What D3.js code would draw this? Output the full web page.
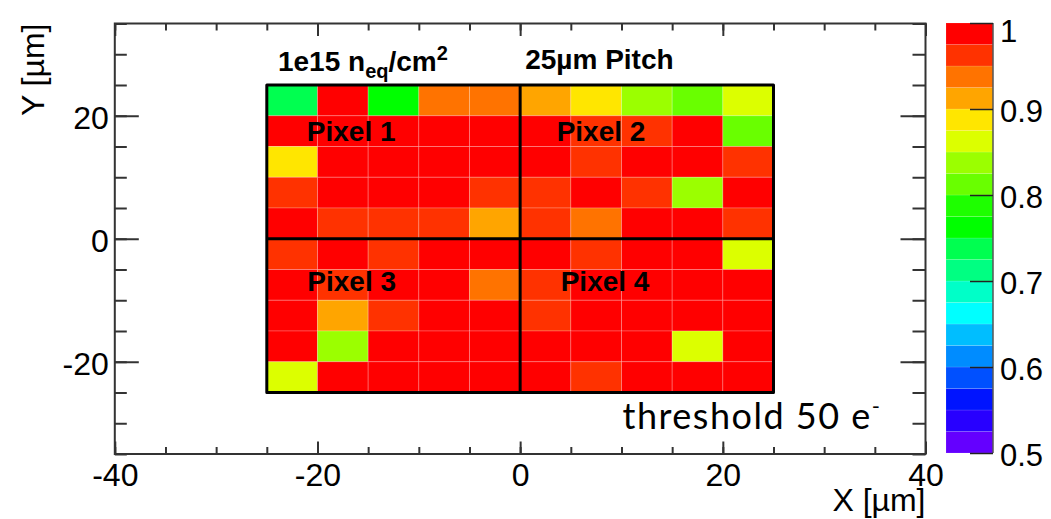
<!DOCTYPE html>
<html><head><meta charset="utf-8">
<script src="https://cdn.jsdelivr.net/npm/d3@7"></script>
<style>
html,body{margin:0;padding:0;background:#fff;}
svg{display:block;}
</style></head>
<body>
<svg id="chart" width="1051" height="519"></svg>
<script>
// ---- data ----
const xBinLow = [-25, -20, -15, -10, -5, 0, 5, 10, 15, 20];
const yBinLow = [20, 15, 10, 5, 0, -5, -10, -15, -20, -25];
const binWidth = 5;
const rowY20  = [0.74, 0.99, 0.76, 0.94, 0.94, 0.91, 0.89, 0.84, 0.81, 0.86];
const rowY15  = [0.99, 0.99, 0.99, 0.99, 0.99, 0.99, 0.96, 0.96, 0.99, 0.81];
const rowY10  = [0.89, 0.99, 0.99, 0.99, 0.99, 0.99, 0.96, 0.99, 0.99, 0.96];
const rowY5   = [0.96, 0.99, 0.99, 0.99, 0.96, 0.96, 0.99, 0.96, 0.84, 0.99];
const rowY0   = [0.99, 0.96, 0.96, 0.96, 0.91, 0.96, 0.94, 0.99, 0.99, 0.96];
const rowYm5  = [0.96, 0.99, 0.96, 0.99, 0.99, 0.99, 0.96, 0.99, 0.99, 0.86];
const rowYm10 = [0.99, 0.96, 0.99, 0.99, 0.94, 0.96, 0.99, 0.99, 0.99, 0.99];
const rowYm15 = [0.99, 0.91, 0.96, 0.99, 0.99, 0.96, 0.99, 0.99, 0.99, 0.99];
const rowYm20 = [0.99, 0.84, 0.99, 0.99, 0.99, 0.99, 0.99, 0.99, 0.86, 0.99];
const rowYm25 = [0.86, 0.99, 0.99, 0.99, 0.99, 0.99, 0.96, 0.99, 0.99, 0.99];
const rows = [rowY20, rowY15, rowY10, rowY5, rowY0, rowYm5, rowYm10, rowYm15, rowYm20, rowYm25];

const xMajorTicks = [-40, -20, 0, 20, 40];
const xTickLabels = ["-40", "-20", "0", "20", "40"];
const xMinorTicks = d3.range(-40, 41, 5);
const yMajorTicks = [-20, 0, 20];
const yTickLabels = ["-20", "0", "20"];
const yMinorTicks = d3.range(-35, 36, 5);
const zTicks = [0.5, 0.6, 0.7, 0.8, 0.9, 1];
const zTickLabels = ["0.5", "0.6", "0.7", "0.8", "0.9", "1"];
const palette = ["#6400ff","#2800ff","#0014ff","#0050ff","#008cff","#00beff","#00ffff","#00ffc8",
  "#00ff82","#00ff50","#00ff00","#1eff00","#69ff00","#9bff00","#dcff00","#ffe600","#ffa500",
  "#ff7300","#ff3200","#ff0000"];
const pixelDividers = {x: 0, y: 0};

// ---- layout ----
const svg = d3.select("#chart");
const L = 114.8, R = 925.5, T = 23.5, B = 454;
const x = d3.scaleLinear().domain([-40, 40]).range([L, R]);
const y = d3.scaleLinear().domain([-35, 35]).range([B, T]);
const z = d3.scaleLinear().domain([0.5, 1]).range([453, 23]);
const color = d3.scaleQuantize().domain([0.5, 1]).range(palette);
const font = "'Liberation Sans', Arial, Helvetica, sans-serif";

// cells
const cells = [];
rows.forEach((r, i) => r.forEach((v, j) => cells.push({x0: xBinLow[j], y0: yBinLow[i], v})));
svg.append("g").selectAll("rect").data(cells).join("rect")
  .attr("x", d => x(d.x0)).attr("y", d => y(d.y0 + binWidth))
  .attr("width", d => x(d.x0 + binWidth) - x(d.x0))
  .attr("height", d => y(d.y0) - y(d.y0 + binWidth))
  .attr("fill", d => color(d.v))
  .attr("stroke", "rgba(255,255,255,0.22)").attr("stroke-width", 1);

// thick pixel boundaries
const gx0 = d3.min(xBinLow), gx1 = d3.max(xBinLow) + binWidth;
const gy0 = d3.min(yBinLow), gy1 = d3.max(yBinLow) + binWidth;
const thick = svg.append("g").attr("stroke", "#000").attr("stroke-width", 3).attr("fill", "none");
thick.append("rect").attr("x", x(gx0)).attr("y", y(gy1))
  .attr("width", x(gx1) - x(gx0)).attr("height", y(gy0) - y(gy1)).attr("stroke-linejoin","round");
thick.append("line").attr("x1", x(pixelDividers.x)).attr("x2", x(pixelDividers.x)).attr("y1", y(gy1)).attr("y2", y(gy0));
thick.append("line").attr("x1", x(gx0)).attr("x2", x(gx1)).attr("y1", y(pixelDividers.y)).attr("y2", y(pixelDividers.y));

// axes
function styleAxis(g, noLabels) {
  g.select(".domain").remove();
  g.selectAll(".tick line").attr("stroke", "#333").attr("stroke-width", 2);
  g.selectAll("text").attr("font-family", font).attr("font-size", 32).attr("fill", "#000");
  if (noLabels) g.selectAll("text").remove();
}
svg.append("g").attr("transform", `translate(0,${B})`)
  .call(d3.axisBottom(x).tickValues(xMinorTicks).tickSize(-7).tickFormat(""))
  .call(g => styleAxis(g, true));
svg.append("g").attr("transform", `translate(0,${B})`)
  .call(d3.axisBottom(x).tickValues(xMajorTicks).tickSize(-12.5).tickPadding(9)
    .tickFormat((d, i) => xTickLabels[i]))
  .call(g => styleAxis(g, false));
svg.append("g").attr("transform", `translate(0,${T})`)
  .call(d3.axisTop(x).tickValues(xMinorTicks).tickSize(-7).tickFormat("")).call(g => styleAxis(g, true));
svg.append("g").attr("transform", `translate(0,${T})`)
  .call(d3.axisTop(x).tickValues(xMajorTicks).tickSize(-12.5).tickFormat("")).call(g => styleAxis(g, true));
svg.append("g").attr("transform", `translate(${L},0)`)
  .call(d3.axisLeft(y).tickValues(yMinorTicks).tickSize(-12).tickFormat("")).call(g => styleAxis(g, true));
svg.append("g").attr("transform", `translate(${L},0)`)
  .call(d3.axisLeft(y).tickValues(yMajorTicks).tickSize(-24).tickPadding(6)
    .tickFormat((d, i) => yTickLabels[i]))
  .call(g => styleAxis(g, false))
  .call(g => g.selectAll("text").attr("dy", "0.4em"));
svg.append("g").attr("transform", `translate(${R},0)`)
  .call(d3.axisRight(y).tickValues(yMinorTicks).tickSize(-13).tickFormat("")).call(g => styleAxis(g, true));
svg.append("g").attr("transform", `translate(${R},0)`)
  .call(d3.axisRight(y).tickValues(yMajorTicks).tickSize(-25).tickFormat("")).call(g => styleAxis(g, true));

// frame
svg.append("rect").attr("x", L).attr("y", T).attr("width", R - L).attr("height", B - T)
  .attr("fill", "none").attr("stroke", "#333").attr("stroke-width", 2);

// axis titles
svg.append("text").attr("x", R).attr("y", 511).attr("text-anchor", "end")
  .attr("font-family", font).attr("font-size", 32).text("X [µm]");
svg.append("text").attr("transform", `translate(44,${T}) rotate(-90)`).attr("text-anchor", "end")
  .attr("font-family", font).attr("font-size", 32).text("Y [µm]");

// colour bar
const CL = 946, CR = 993;
const bands = palette.map((c, i) => ({lo: 0.5 + i * 0.025, hi: 0.5 + (i + 1) * 0.025, c}));
svg.append("g").selectAll("rect").data(bands).join("rect")
  .attr("x", CL).attr("width", CR - CL)
  .attr("y", d => z(d.hi)).attr("height", d => z(d.lo) - z(d.hi))
  .attr("fill", d => d.c).attr("stroke", "rgba(255,255,255,0.15)").attr("stroke-width", 0.8);
svg.append("line").attr("x1", CR).attr("x2", CR).attr("y1", z(0.5)).attr("y2", z(1))
  .attr("stroke", "#555").attr("stroke-width", 1.5);
svg.append("g").attr("transform", `translate(${CR},0)`)
  .call(d3.axisRight(z).tickValues(zTicks).tickSize(-23).tickPadding(30)
    .tickFormat((d, i) => zTickLabels[i]))
  .call(g => {
    g.select(".domain").remove();
    g.selectAll(".tick line").attr("stroke", "#222").attr("stroke-width", 1.5);
    g.selectAll("text").attr("font-family", font).attr("font-size", 31).attr("fill", "#000")
      .attr("x", 7).attr("text-anchor", "start").attr("dy", d => d === 1 ? "0.6em" : "0.4em");
  });

// annotations
const ann = svg.append("g").attr("font-family", font).attr("font-weight", "bold").attr("font-size", 28).attr("fill", "#000");
const t1 = ann.append("text").attr("x", x(-23.9)).attr("y", y(27.3));
t1.append("tspan").text("1e15 n");
t1.append("tspan").attr("font-size", 20).attr("dy", 7).text("eq");
t1.append("tspan").attr("dy", -7).text("/cm");
t1.append("tspan").attr("font-size", 20).attr("dy", -11).text("2");
ann.append("text").attr("x", x(0.5)).attr("y", y(27.6)).text("25µm Pitch");
ann.append("text").attr("x", x(-21.05)).attr("y", y(15.9)).text("Pixel 1");
ann.append("text").attr("x", x(3.6)).attr("y", y(15.9)).text("Pixel 2");
ann.append("text").attr("x", x(-21)).attr("y", y(-8.5)).text("Pixel 3");
ann.append("text").attr("x", x(4.0)).attr("y", y(-8.5)).text("Pixel 4");

const th = svg.append("text").attr("x", x(10.1)).attr("y", y(-31))
  .attr("font-family", "Lato, 'Open Sans', sans-serif").attr("font-size", 36)
  .attr("letter-spacing", 1.5).attr("fill", "#000");
th.append("tspan").text("threshold 50 e");
th.append("tspan").attr("font-size", 22).attr("dy", -15).text("-");
</script>
</body></html>
